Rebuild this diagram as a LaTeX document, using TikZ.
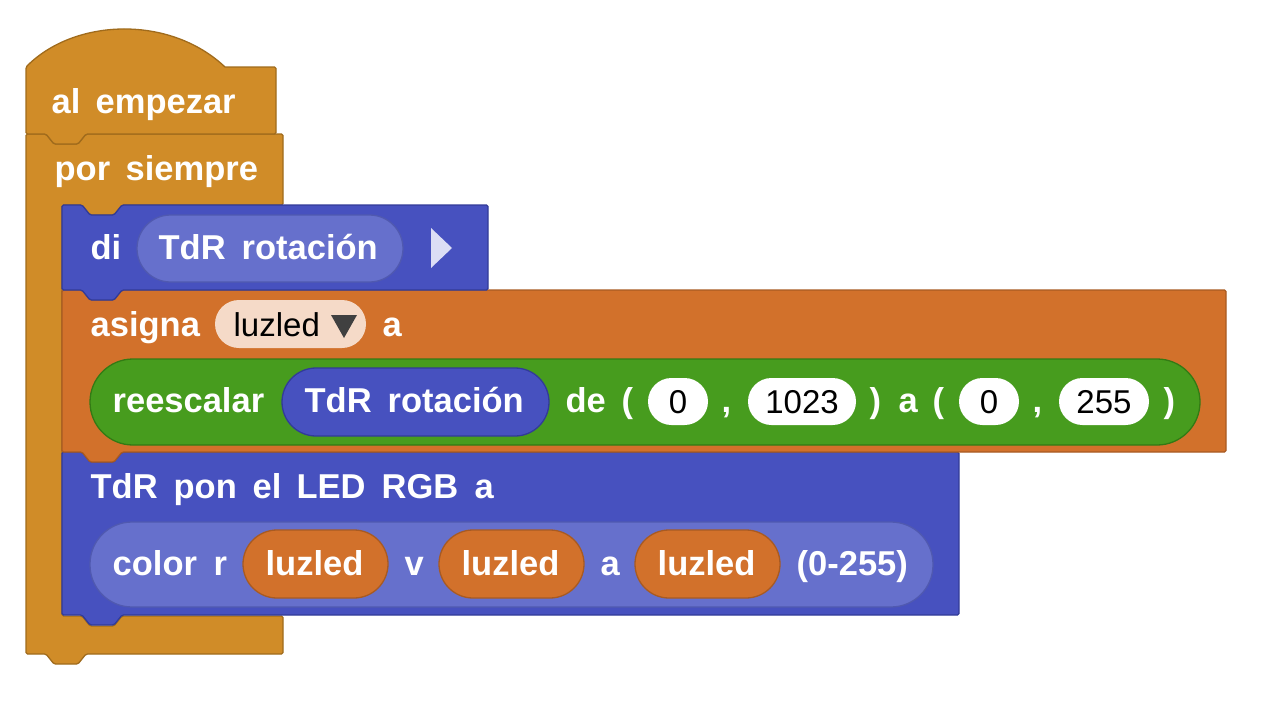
\documentclass[tikz,border=0pt]{standalone}
\usepackage{fontspec}
\setmainfont{Liberation Sans}
\definecolor{ctl}{HTML}{D08C28}\definecolor{ctlB}{HTML}{A06B1C}
\definecolor{blu}{HTML}{4751BF}\definecolor{bluB}{HTML}{323B98}
\definecolor{lblu}{HTML}{6670CC}\definecolor{lbluB}{HTML}{5059B0}
\definecolor{org}{HTML}{D2712B}\definecolor{orgB}{HTML}{A85A22}
\definecolor{grn}{HTML}{479C1E}\definecolor{grnB}{HTML}{337A14}
\definecolor{pch}{HTML}{F5DAC8}\definecolor{lav}{HTML}{DCDEF5}
\begin{document}
\begin{tikzpicture}[x=1pt,y=-1pt,line width=1.3pt,line join=round,
  w/.style={anchor=base west,inner sep=0,text=white,font=\fontsize{34.5}{40}\selectfont\bfseries},
  k/.style={anchor=base,inner sep=0,text=black,font=\fontsize{33}{40}\selectfont}]
\useasboundingbox (0,0) rectangle (1268,707);
% forever
\draw[fill=ctl,draw=ctlB,rounded corners=1.5] (26,134) -- (46,134) -- (54,144) -- (78,144) -- (86,134) -- (283,134) -- (283,205) -- (122,205) -- (114,215) -- (90,215) -- (82,205) -- (62,205) -- (62,616) -- (82,616)--(90,626)--(114,626)--(122,616) -- (283,616) -- (283,654) -- (86,654)--(78,664)--(54,664)--(46,654) -- (26,654) -- cycle;
% hat
\draw[fill=ctl,draw=ctlB] (26,67) .. controls (75,18) and (170,15) .. (225,67) [rounded corners=1.5]-- (276,67) -- (276,134) -- (86,134) -- (78,144) -- (54,144) -- (46,134) -- (26,134) -- cycle;
% TdR block
\draw[fill=blu,draw=bluB,rounded corners=1.5] (62,452)--(82,452)--(90,462)--(114,462)--(122,452)--(959,452)--(959,615)--(122,615)--(114,625)--(90,625)--(82,615)--(62,615)--cycle;
% asigna block
\draw[fill=org,draw=orgB,rounded corners=1.5] (62,290)--(82,290)--(90,300)--(114,300)--(122,290)--(1226,290)--(1226,452)--(122,452)--(114,462)--(90,462)--(82,452)--(62,452)--cycle;
% di block
\draw[fill=blu,draw=bluB,rounded corners=1.5] (62,205)--(82,205)--(90,215)--(114,215)--(122,205)--(488,205)--(488,290)--(122,290)--(114,300)--(90,300)--(82,290)--(62,290)--cycle;
% texts top
\node[w] (t1) at (51,113) {al};
\node[w] (t2) at (95,113) {empezar};
\node[w] (t3) at (54,180) {por};
\node[w] (t4) at (125,180) {siempre};
\node[w] (t5) at (90,259) {di};
\draw[fill=lblu,draw=lbluB,rounded corners=33.5] (137,215) rectangle (403,282);
\node[w] (t6) at (158,259) {TdR};
\node[w] (t7) at (241,259) {rotación};
\fill[lav] (431,228) -- (452,248) -- (431,268) -- cycle;
% asigna
\node[w] (a1) at (90,336) {asigna};
\fill[pch,rounded corners=24] (215,300) rectangle (366,348);
\node[k,anchor=base west] (a2) at (233,336) {luzled};
\fill[black!75] (331,315) -- (357,315) -- (344,338) -- cycle;
\node[w] (a3) at (382,336) {a};
% reescalar
\draw[fill=grn,draw=grnB,rounded corners=43] (90,359) rectangle (1200,445);
\node[w] (r1) at (112,412) {reescalar};
\draw[fill=blu,draw=bluB,rounded corners=34] (282,368) rectangle (549,436);
\node[w] (r2) at (304,412) {TdR};
\node[w] (r3) at (387,412) {rotación};
\node[w] (r4) at (565,412) {de};
\node[w] (r5) at (621,412) {(};
\fill[white,rounded corners=23.5] (648,378) rectangle (708,425);
\node[k] (n1) at (678,413) {0};
\node[w] (r6) at (721,412) {,};
\fill[white,rounded corners=23.5] (748,378) rectangle (856,425);
\node[k] (n2) at (802,413) {1023};
\node[w] (r7) at (869,412) {)};
\node[w] (r8) at (898,412) {a};
\node[w] (r9) at (932,412) {(};
\fill[white,rounded corners=23.5] (959,378) rectangle (1019,425);
\node[k] (n3) at (989,413) {0};
\node[w] (r10) at (1032,412) {,};
\fill[white,rounded corners=23.5] (1059,378) rectangle (1149,425);
\node[k] (n4) at (1104,413) {255};
\node[w] (r11) at (1163,412) {)};
% TdR pon
\node[w] (p1) at (90,498) {TdR};
\node[w] (p2) at (173,498) {pon};
\node[w] (p3) at (252,498) {el};
\node[w] (p4) at (296,498) {LED};
\node[w] (p5) at (381,498) {RGB};
\node[w] (p6) at (474,498) {a};
\draw[fill=lblu,draw=lbluB,rounded corners=42] (90,522) rectangle (933,607);
\node[w] (c1) at (112,575) {color};
\node[w] (c2) at (213,575) {r};
\draw[fill=org,draw=orgB,rounded corners=34] (243,530) rectangle (388,598);
\node[w] (c3) at (265,575) {luzled};
\node[w] (c4) at (404,575) {v};
\draw[fill=org,draw=orgB,rounded corners=34] (439,530) rectangle (584,598);
\node[w] (c5) at (461,575) {luzled};
\node[w] (c6) at (600,575) {a};
\draw[fill=org,draw=orgB,rounded corners=34] (635,530) rectangle (780,598);
\node[w] (c7) at (657,575) {luzled};
\node[w] (c8) at (796,575) {(0-255)};
\end{tikzpicture}
\end{document}
